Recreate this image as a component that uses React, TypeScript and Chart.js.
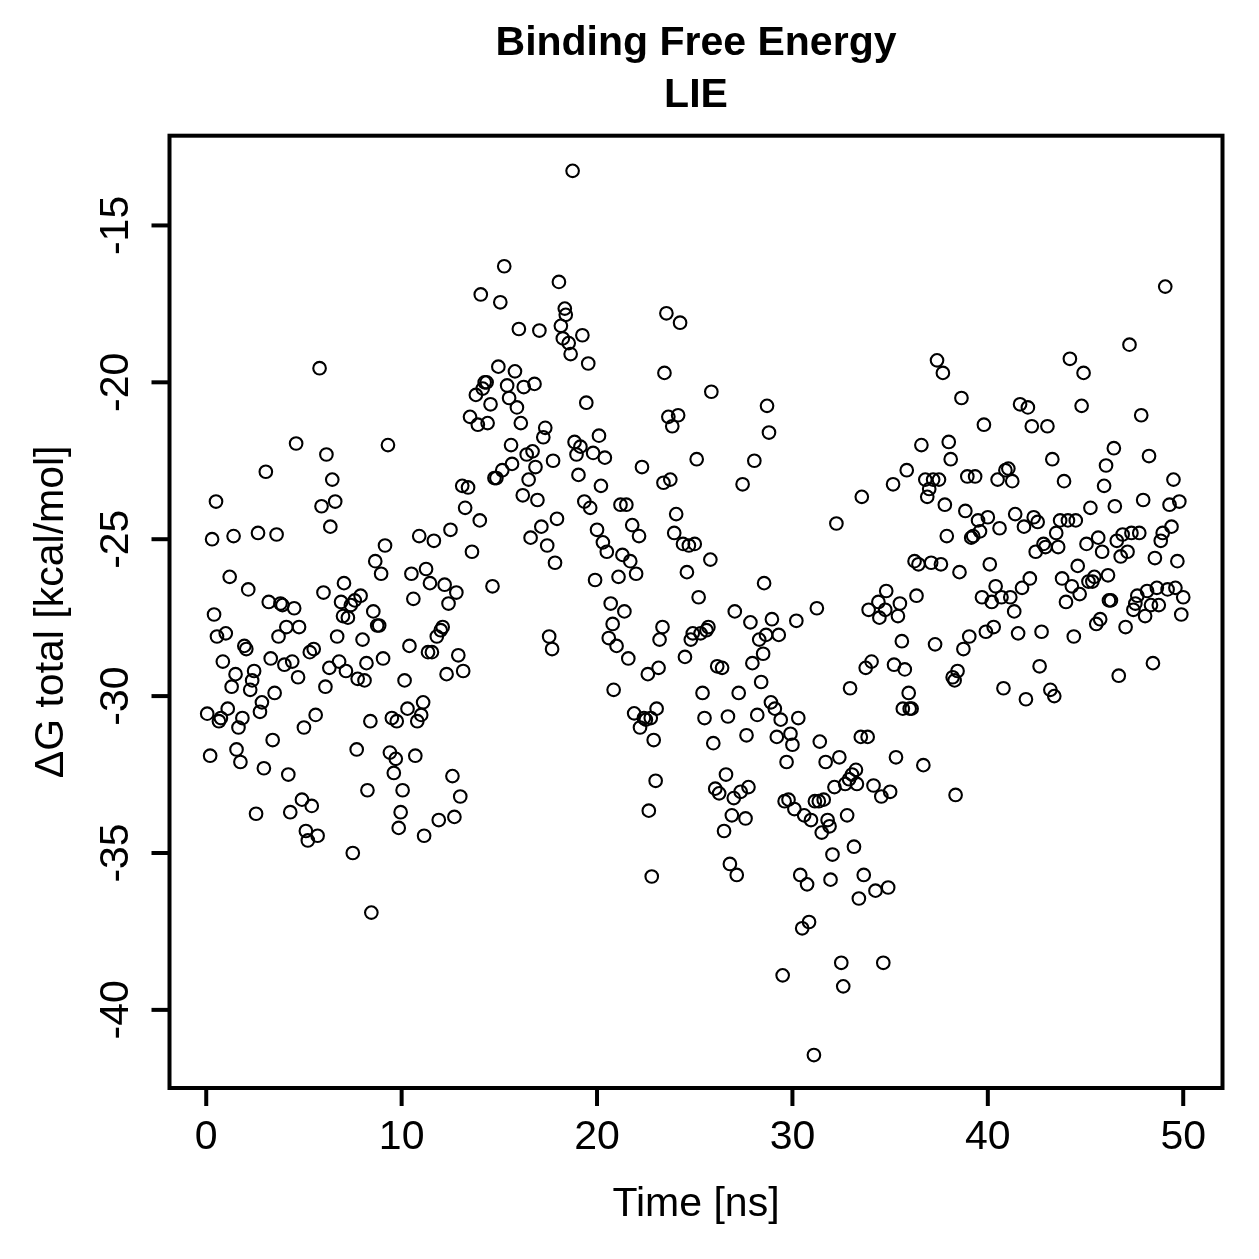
import React, { useEffect, useRef } from "react";
import { Chart, registerables } from "chart.js";

Chart.register(...registerables);

const titleLines = ["Binding Free Energy", "LIE"];
const xLabel = "Time [ns]";
const yLabel = "ΔG total [kcal/mol]";
const xTicks = [0, 10, 20, 30, 40, 50];
const yTicks = [-15, -20, -25, -30, -35, -40];

const timeNs = [
  0.05, 0.2, 0.3, 0.4, 0.5, 0.55, 0.65, 0.75, 0.85, 1.0,
  1.1, 1.2, 1.3, 1.4, 1.5, 1.55, 1.65, 1.75, 1.85, 1.95,
  2.05, 2.15, 2.25, 2.35, 2.45, 2.55, 2.65, 2.75, 2.85, 2.95,
  3.05, 3.2, 3.3, 3.4, 3.5, 3.6, 3.7, 3.8, 3.9, 4.0,
  4.1, 4.2, 4.3, 4.4, 4.5, 4.6, 4.7, 4.75,
  4.9, 5.0, 5.1, 5.2, 5.3, 5.4, 5.5, 5.6, 5.7, 5.8,
  5.9, 6.0, 6.1, 6.15, 6.3, 6.35, 6.45, 6.6, 6.7, 6.8,
  6.9, 7.0, 7.05, 7.15, 7.25, 7.4, 7.5, 7.6, 7.7, 7.75,
  7.9, 8.0, 8.1, 8.2, 8.25, 8.4, 8.45, 8.55, 8.65, 8.75,
  8.85, 8.95, 9.05, 9.15, 9.3, 9.4, 9.5, 9.6, 9.7, 9.75, 9.85,
  9.95, 10.05, 10.15, 10.3, 10.4, 10.5, 10.6, 10.7, 10.8, 10.9,
  11.0, 11.1, 11.15, 11.25, 11.35, 11.45, 11.55, 11.65, 11.8, 11.9,
  12.0, 12.1, 12.2, 12.3, 12.4, 12.5, 12.6, 12.7, 12.8, 12.9,
  13.0, 13.1, 13.15, 13.25, 13.4, 13.5, 13.6, 13.8, 13.9, 14.0,
  14.05, 14.15, 14.25, 14.35, 14.4, 14.55, 14.65, 14.75, 14.85, 14.95,
  15.05, 15.15, 15.25, 15.4, 15.5, 15.6, 15.65, 15.8, 15.9, 16.0,
  16.1, 16.2, 16.25, 16.4, 16.5, 16.6, 16.7, 16.8, 16.85, 16.95,
  17.05, 17.15, 17.25, 17.35, 17.45, 17.55, 17.7, 17.75, 17.85, 17.95,
  18.05, 18.15, 18.25, 18.35, 18.4, 18.55, 18.65, 18.75, 18.85, 18.95,
  19.05, 19.15, 19.25, 19.35, 19.45, 19.55, 19.65, 19.8, 19.9, 20.0, 20.1,
  20.2, 20.3, 20.4, 20.5, 20.6, 20.7, 20.8, 20.85, 21.0, 21.1,
  21.2, 21.3, 21.4, 21.5, 21.6, 21.7, 21.8, 21.9, 22.0, 22.15,
  22.2, 22.3, 22.4, 22.5, 22.6, 22.65, 22.75, 22.8, 22.9, 23.0,
  23.05, 23.15, 23.2, 23.35, 23.4, 23.45, 23.55, 23.65, 23.75, 23.85,
  23.95, 24.05, 24.15, 24.25, 24.4, 24.5, 24.6, 24.7, 24.8, 24.9,
  25.0, 25.1, 25.2,
  25.3, 25.4, 25.5, 25.6, 25.7, 25.8, 25.85, 25.95, 26.05, 26.15,
  26.25, 26.4, 26.5, 26.6, 26.7, 26.8, 26.9, 27.0, 27.05, 27.15,
  27.25, 27.35, 27.45, 27.6, 27.65, 27.75, 27.85, 27.95, 28.05, 28.2,
  28.3, 28.4, 28.5, 28.55, 28.65, 28.7, 28.8, 28.9, 28.95, 29.1,
  29.2, 29.3, 29.4, 29.5, 29.6, 29.7, 29.8, 29.9, 30.0, 30.1,
  30.2, 30.3,
  30.4, 30.5, 30.6, 30.75, 30.85, 30.95, 31.1, 31.15, 31.25, 31.35,
  31.4, 31.5, 31.6, 31.7, 31.8, 31.9, 31.95, 32.05, 32.15, 32.25,
  32.4, 32.5, 32.6, 32.7, 32.8, 32.9, 32.95, 33.05, 33.15, 33.25,
  33.3, 33.4, 33.5, 33.55, 33.65, 33.75, 33.85, 33.9, 34.05, 34.15,
  34.25, 34.4, 34.45, 34.55, 34.65, 34.75, 34.8, 34.9, 35.0, 35.15,
  35.2, 35.3, 35.4,
  35.5, 35.6, 35.65, 35.75, 35.85, 35.95, 36.0, 36.1, 36.25, 36.35,
  36.45, 36.6, 36.7, 36.8, 36.9, 37.0, 37.1, 37.2, 37.3, 37.4,
  37.5, 37.6, 37.7, 37.8, 37.9, 38.0, 38.1, 38.2, 38.3, 38.35,
  38.45, 38.55, 38.65, 38.75, 38.85, 38.95, 39.05, 39.15, 39.25, 39.35,
  39.5, 39.6, 39.7, 39.8, 39.9, 40.0, 40.1, 40.2, 40.3, 40.4, 40.5,
  40.6, 40.7, 40.8, 40.9, 41.05, 41.15, 41.25, 41.35, 41.4, 41.55,
  41.65, 41.75, 41.85, 41.95, 42.05, 42.15, 42.25, 42.35, 42.45, 42.55,
  42.65, 42.75, 42.85, 42.95, 43.05, 43.2, 43.3, 43.4, 43.5, 43.6,
  43.7, 43.8, 43.9, 44.0, 44.1, 44.2, 44.3, 44.4, 44.5, 44.6,
  44.7, 44.8, 44.9, 45.05, 45.15, 45.25, 45.35, 45.45, 45.55, 45.65, 45.75,
  45.85, 45.95, 46.05, 46.15, 46.2, 46.3, 46.45, 46.5, 46.6, 46.7,
  46.8, 46.9, 47.05, 47.15, 47.25, 47.35, 47.45, 47.55, 47.65, 47.75,
  47.85, 47.95, 48.05, 48.15, 48.25, 48.35, 48.45, 48.55, 48.65, 48.75,
  48.85, 48.95, 49.08, 49.2, 49.3, 49.4, 49.5, 49.6, 49.7, 49.8,
  49.9, 50.0,
];

const deltaG = [
  -30.56, -31.9, -25.0, -27.4, -23.8, -28.1, -30.8, -30.7, -28.9, -28.0,
  -30.4, -26.2, -29.7, -24.9, -29.3, -31.7, -31.0, -32.1, -30.7, -28.4,
  -28.5, -26.6, -29.8, -29.5, -29.2, -33.75, -24.8, -30.5, -30.2, -32.3,
  -22.85, -27.0, -28.8, -31.4, -29.9, -24.85, -28.1, -27.05, -27.1, -29.0,
  -27.8, -32.5, -33.7, -28.9, -27.2, -21.95, -29.4, -27.8,
  -33.3, -31.0, -34.3, -34.6, -28.6, -33.5, -28.5, -30.6, -34.45, -19.55,
  -23.95, -26.7, -29.7, -22.3, -29.1, -24.6, -23.1, -23.8, -28.1, -28.9,
  -27.0, -27.45, -26.4, -29.2, -27.5, -27.1, -35.0, -26.95, -31.7, -29.45,
  -26.8, -28.2, -29.5, -28.95, -33.0, -30.8, -36.9, -27.3, -25.7, -27.75,
  -27.75, -26.1, -28.8, -25.2, -22.0, -31.8, -30.7, -32.45, -32.0, -30.8, -34.2,
  -33.7, -33.0, -29.5, -30.4, -28.4, -26.1, -26.9, -31.9, -30.8, -24.9,
  -30.6, -30.2, -34.45, -25.95, -28.6, -26.4, -28.6, -25.05, -28.1, -33.95,
  -27.9, -27.8, -26.45, -29.3, -27.05, -24.7, -32.55, -33.85, -26.7, -28.7,
  -33.2, -23.3, -29.2, -24.0, -23.35, -21.1, -25.4, -20.4, -21.35, -24.4,
  -17.2, -20.2, -20.0, -20.0, -21.3, -20.7, -26.5, -23.05, -23.05, -19.5,
  -17.45, -22.8, -16.3, -20.1, -20.5, -22.0, -22.6, -19.65, -20.8, -18.3,
  -21.3, -23.6, -20.15, -22.3, -23.1, -24.95, -22.2, -20.05, -22.7, -23.75,
  -18.35, -24.6, -21.75, -21.45, -25.2, -28.1, -28.5, -22.5, -25.75, -24.35,
  -16.8, -18.2, -18.6, -17.65, -17.85, -18.75, -19.1, -13.26, -21.9, -22.3,
  -22.95, -22.05, -18.5, -23.8, -20.65, -19.4, -24.0, -22.25, -26.3, -24.7, -21.7,
  -23.3, -25.1, -22.4, -25.4, -28.15, -27.05, -27.7, -29.8, -28.4, -26.2,
  -23.9, -25.5, -27.3, -23.9, -28.8, -25.7, -24.55, -30.55, -26.1, -24.9,
  -31.0, -22.7, -30.7, -30.75, -29.3, -33.65, -30.7, -35.75, -31.4, -32.7,
  -30.4, -29.1, -28.2, -27.8, -23.2, -19.7, -17.8, -21.1, -23.1, -21.4,
  -24.8, -24.2, -21.05, -18.1, -25.15, -28.75, -26.05, -25.2, -28.2, -28.0,
  -25.15, -22.45, -26.85,
  -28.0, -29.9, -30.7, -27.9, -27.8, -25.65, -20.3, -31.5, -32.95, -29.05,
  -33.1, -29.1, -34.3, -32.5, -30.65, -35.35, -33.8, -33.25, -27.3, -35.7,
  -29.9, -33.05, -23.25, -33.9, -31.25, -32.9, -27.65, -28.95, -22.5, -30.6,
  -28.2, -29.55, -28.65, -26.4, -28.05, -20.75, -21.6, -30.2, -27.55, -30.4,
  -31.3, -28.05, -30.75, -38.9, -33.35, -32.1, -33.3, -31.2, -31.55, -33.6,
  -27.6, -30.7,
  -35.7, -37.4, -33.8, -36.0, -37.2, -33.95, -41.44, -33.35, -27.2, -33.35,
  -31.45, -34.35, -33.3, -32.1, -33.95, -34.15, -35.85, -35.05, -32.9, -24.5,
  -31.95, -38.5, -39.25, -32.8, -33.8, -32.65, -29.75, -32.5, -34.8, -32.35,
  -32.8, -36.45, -31.3, -23.65, -35.7, -29.1, -31.3, -27.25, -28.9, -32.85,
  -36.2, -27.0, -27.5, -33.2, -38.5, -27.25, -26.65, -36.1, -33.05, -23.25,
  -29.0, -31.95, -27.45,
  -27.05, -28.25, -30.4, -29.15, -22.8, -29.9, -30.4, -30.4, -25.7, -26.8,
  -25.8, -22.0, -32.2, -23.1, -23.65, -23.4, -25.75, -23.1, -28.35, -19.3,
  -23.1, -25.8, -19.7, -23.9, -24.9, -21.9, -22.45, -29.4, -29.5, -33.15,
  -29.2, -26.05, -20.5, -28.5, -24.1, -23.0, -28.1, -24.95, -24.9, -23.0,
  -24.4, -24.75, -26.85, -21.35, -27.95, -24.3, -25.8, -27.0, -27.8, -26.5, -23.1,
  -24.65, -26.85, -29.75, -22.8, -22.75, -26.85, -23.15, -27.3, -24.2, -28.0,
  -20.7, -26.55, -24.6, -30.1, -20.8, -26.25, -21.4, -24.3, -25.4, -24.45,
  -29.05, -27.95, -25.15, -25.25, -21.4, -29.8, -22.45, -30.0, -24.8, -25.25,
  -24.4, -26.25, -23.15, -27.0, -24.4, -19.25, -26.5, -28.1, -24.4, -25.85,
  -26.75, -20.75, -19.7, -25.15, -26.35, -24.0, -26.35, -26.2, -27.7, -24.95, -27.55,
  -25.4, -23.3, -22.65, -26.15, -26.95, -26.95, -22.1, -23.95, -25.05, -29.35,
  -25.55, -24.85, -27.8, -25.4, -18.8, -24.8, -27.25, -27.05, -26.8, -24.8,
  -21.05, -23.75, -27.45, -26.65, -22.35, -27.1, -28.95, -25.6, -26.55, -27.1,
  -25.05, -24.8, -16.95, -26.6, -23.9, -24.6, -23.1, -26.55, -25.7, -23.8,
  -27.4, -26.85,
];

const FONT = '"Liberation Sans", Arial, Helvetica, sans-serif';

const rAxesPlugin = {
  id: "rAxes",
  afterDraw(chart: any) {
    const { ctx, chartArea, scales } = chart;
    const { left, right, top, bottom } = chartArea;
    const xs = scales.x;
    const ys = scales.y;
    ctx.save();
    ctx.strokeStyle = "#000";
    ctx.fillStyle = "#000";
    ctx.lineWidth = 4;
    ctx.lineCap = "butt";
    ctx.strokeRect(left, top, right - left, bottom - top);

    ctx.font = `41px ${FONT}`;
    ctx.textAlign = "center";
    ctx.textBaseline = "alphabetic";
    xTicks.forEach((v) => {
      const px = xs.getPixelForValue(v);
      ctx.beginPath();
      ctx.moveTo(px, bottom);
      ctx.lineTo(px, bottom + 18);
      ctx.stroke();
      ctx.fillText(String(v), px, bottom + 61);
    });
    yTicks.forEach((v) => {
      const py = ys.getPixelForValue(v);
      ctx.beginPath();
      ctx.moveTo(left, py);
      ctx.lineTo(left - 18, py);
      ctx.stroke();
      ctx.save();
      ctx.translate(left - 42, py);
      ctx.rotate(-Math.PI / 2);
      ctx.fillText(String(v), 0, 0);
      ctx.restore();
    });
    const cx = (left + right) / 2;
    const cy = (top + bottom) / 2;
    ctx.fillText(xLabel, cx, bottom + 128);
    ctx.save();
    ctx.translate(left - 107, cy);
    ctx.rotate(-Math.PI / 2);
    ctx.fillText(yLabel, 0, 0);
    ctx.restore();
    ctx.font = `bold 41px ${FONT}`;
    ctx.fillText(titleLines[0], cx, 55);
    ctx.fillText(titleLines[1], cx, 107);
    ctx.restore();
  },
};

export default function App() {
  const canvasRef = useRef<HTMLCanvasElement | null>(null);

  useEffect(() => {
    const canvas = canvasRef.current;
    if (!canvas) return;
    const points = timeNs.map((t, i) => ({ x: t, y: deltaG[i] }));
    const chart = new Chart(canvas, {
      type: "scatter",
      data: {
        datasets: [
          {
            data: points,
            pointStyle: "circle",
            pointRadius: 6.3,
            pointHoverRadius: 6.3,
            borderColor: "#000",
            backgroundColor: "rgba(0,0,0,0)",
            borderWidth: 2.1,
            showLine: false,
          },
        ],
      },
      options: {
        responsive: false,
        animation: false,
        devicePixelRatio: 1,
        events: [],
        layout: { padding: { left: 169.5, right: 36.5, top: 135.7, bottom: 171 } },
        scales: {
          x: { type: "linear", min: -1.88, max: 52.01, display: false },
          y: { type: "linear", min: -42.49, max: -12.14, display: false },
        },
        plugins: {
          legend: { display: false },
          title: { display: false },
          tooltip: { enabled: false },
        },
      },
      plugins: [rAxesPlugin],
    });
    return () => chart.destroy();
  }, []);

  return (
    <div style={{ position: "absolute", left: 0, top: 0, width: 1259, height: 1259, background: "#fff" }}>
      <canvas ref={canvasRef} width={1259} height={1259} />
    </div>
  );
}
